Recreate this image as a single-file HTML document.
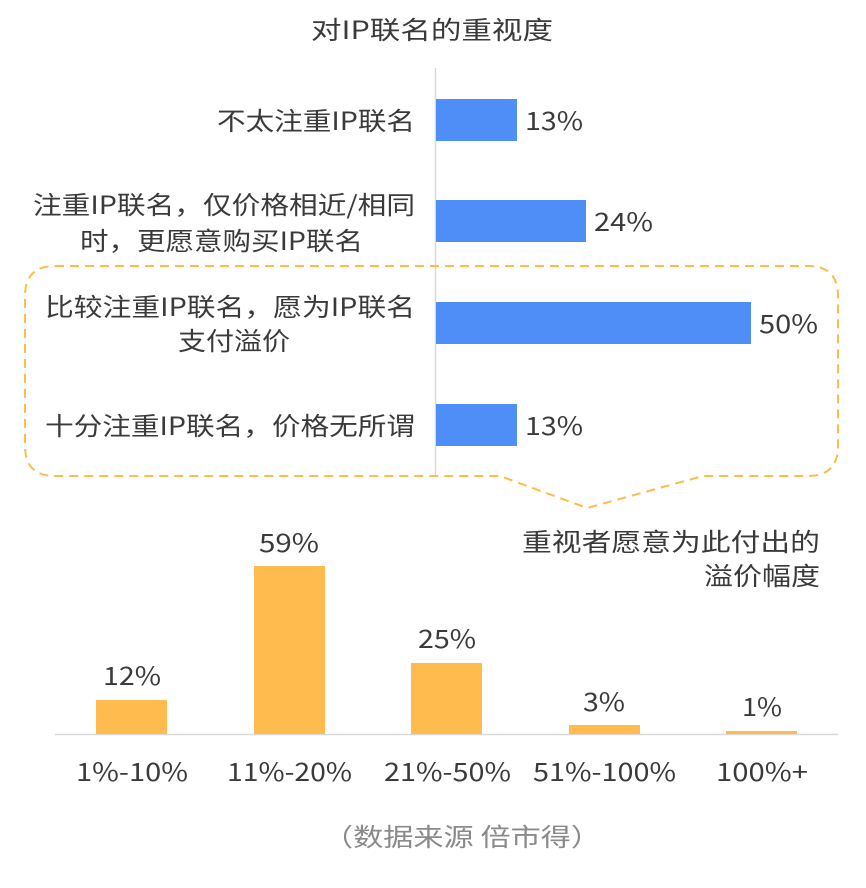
<!DOCTYPE html>
<html><head><meta charset="utf-8"><style>
body{margin:0;background:#fff;}
svg text{font-family:"Noto Sans CJK SC","Liberation Sans",sans-serif;fill:#3a3a3a;}
</style></head><body>
<svg width="866" height="883" viewBox="0 0 866 883" xmlns="http://www.w3.org/2000/svg">
<text x="311" y="39" font-size="25" textLength="242" lengthAdjust="spacingAndGlyphs">对IP联名的重视度</text>
<line x1="435.5" y1="68" x2="435.5" y2="476" stroke="#d9d9d9" stroke-width="1.5"/>
<g fill="#4F8EF7">
<rect x="436" y="99" width="81" height="42"/>
<rect x="436" y="200" width="150" height="42"/>
<rect x="436" y="302" width="315" height="42"/>
<rect x="436" y="404" width="81" height="42"/>
</g>
<g font-size="25" lengthAdjust="spacingAndGlyphs">
<text x="525" y="130" textLength="58" lengthAdjust="spacingAndGlyphs">13%</text>
<text x="594" y="231" textLength="59" lengthAdjust="spacingAndGlyphs">24%</text>
<text x="759" y="333" textLength="59" lengthAdjust="spacingAndGlyphs">50%</text>
<text x="525" y="435" textLength="58" lengthAdjust="spacingAndGlyphs">13%</text>
</g>
<g font-size="25">
<text x="217" y="130" textLength="198" lengthAdjust="spacingAndGlyphs">不太注重IP联名</text>
<text x="33" y="214" textLength="382" lengthAdjust="spacingAndGlyphs">注重IP联名，仅价格相近/相同</text>
<text x="80" y="250" textLength="283" lengthAdjust="spacingAndGlyphs">时，更愿意购买IP联名</text>
<text x="45" y="316" textLength="370" lengthAdjust="spacingAndGlyphs">比较注重IP联名，愿为IP联名</text>
<text x="178" y="350" textLength="112" lengthAdjust="spacingAndGlyphs">支付溢价</text>
<text x="45" y="435" textLength="370" lengthAdjust="spacingAndGlyphs">十分注重IP联名，价格无所谓</text>
</g>
<path d="M55 266 H808 Q838 266 838 296 V446 Q838 476 808 476 H703 L587 508 L500 476 H55 Q25 476 25 446 V296 Q25 266 55 266 Z" fill="none" stroke="#FFBB4E" stroke-width="2" stroke-dasharray="9 6"/>
<g font-size="25">
<text x="522" y="551" textLength="298" lengthAdjust="spacingAndGlyphs">重视者愿意为此付出的</text>
<text x="704" y="585" textLength="116" lengthAdjust="spacingAndGlyphs">溢价幅度</text>
</g>
<line x1="55" y1="734.5" x2="838" y2="734.5" stroke="#d9d9d9" stroke-width="1.5"/>
<g fill="#FFBB4E">
<rect x="96" y="700" width="71" height="34"/>
<rect x="254" y="566" width="71" height="168"/>
<rect x="411" y="663" width="71" height="71"/>
<rect x="569" y="725" width="71" height="9"/>
<rect x="726" y="731" width="71" height="3"/>
</g>
<g font-size="25">
<text x="103" y="685" textLength="58" lengthAdjust="spacingAndGlyphs">12%</text>
<text x="259" y="552" textLength="60" lengthAdjust="spacingAndGlyphs">59%</text>
<text x="418" y="648" textLength="58" lengthAdjust="spacingAndGlyphs">25%</text>
<text x="583" y="711" textLength="42" lengthAdjust="spacingAndGlyphs">3%</text>
<text x="742" y="716" textLength="40" lengthAdjust="spacingAndGlyphs">1%</text>
<text x="76" y="781" textLength="112" lengthAdjust="spacingAndGlyphs">1%-10%</text>
<text x="227" y="781" textLength="125" lengthAdjust="spacingAndGlyphs">11%-20%</text>
<text x="384" y="781" textLength="127" lengthAdjust="spacingAndGlyphs">21%-50%</text>
<text x="533" y="781" textLength="143" lengthAdjust="spacingAndGlyphs">51%-100%</text>
<text x="716" y="781" textLength="92" lengthAdjust="spacingAndGlyphs">100%+</text>
</g>
<text x="323" y="846" font-size="25" textLength="278" lengthAdjust="spacingAndGlyphs" style="fill:#8a8a8a">（数据来源  倍市得）</text>
</svg>
</body></html>
